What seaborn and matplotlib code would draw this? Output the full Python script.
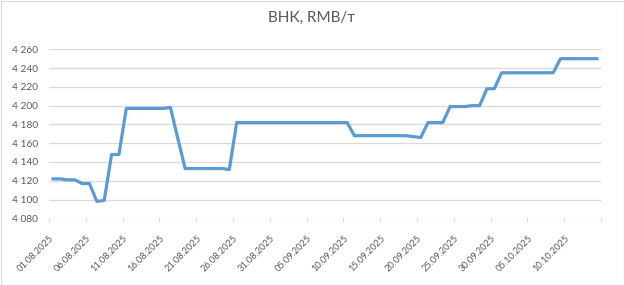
import matplotlib
matplotlib.use("Agg")
import matplotlib.pyplot as plt
import seaborn as sns
import pandas as pd
import numpy as np
from matplotlib.patches import Rectangle
from matplotlib.ticker import FuncFormatter, FixedLocator

dates = pd.date_range("2025-08-01", "2025-10-14", freq="D").strftime("%d.%m.%Y").tolist()
values = [
    4122, 4122, 4121, 4121, 4117, 4117, 4098, 4099, 4148, 4148,
    4197, 4197, 4197, 4197, 4197, 4197, 4198, 4165, 4133, 4133,
    4133, 4133, 4133, 4133, 4132, 4182, 4182, 4182, 4182, 4182,
    4182, 4182, 4182, 4182, 4182, 4182, 4182, 4182, 4182, 4182,
    4182, 4168, 4168, 4168, 4168, 4168, 4168, 4168, 4168, 4167,
    4166, 4182, 4182, 4182, 4199, 4199, 4199, 4200, 4200, 4218,
    4218, 4235, 4235, 4235, 4235, 4235, 4235, 4235, 4235, 4250,
    4250, 4250, 4250, 4250, 4250,
]
title = "ВНК, RMB/т"
yticks = list(range(4080, 4261, 20))

sns.set_theme(style="white")
plt.rcParams["font.family"] = ["Lato", "DejaVu Sans"]

df = pd.DataFrame({"date": dates, "value": values, "idx": np.arange(len(dates))})

fig = plt.figure(figsize=(6.24, 2.85), dpi=100)
ax = fig.add_axes([49 / 624, 1 - 218.3 / 285, 552 / 624, (218.3 - 49.3) / 285])

for y in yticks:
    ax.axhline(y, color="#D9D9D9", lw=0.9, zorder=0)

sns.lineplot(data=df, x="idx", y="value", ax=ax, color="#5B9BD5", lw=2.3, zorder=3)

ax.set_xlim(-0.5, len(dates) - 0.5)
ax.set_ylim(4080, 4260)
ax.set_yticks(yticks)
ax.yaxis.set_major_formatter(FuncFormatter(lambda v, p: f"{int(v):,}".replace(",", " ")))
tick_idx = [i for i in range(0, len(dates), 5) if i <= 70]
ax.set_xticks(tick_idx)
ax.set_xticklabels([dates[i] for i in tick_idx], rotation=45, ha="right",
                   rotation_mode="anchor", va="center")
ax.xaxis.set_minor_locator(FixedLocator([i - 0.5 for i in range(0, len(dates) + 1, 5)]))
ax.tick_params(axis="x", which="major", length=0, pad=13, labelsize=6.7, colors="#595959")
ax.tick_params(axis="x", which="minor", length=3, width=0.8, color="#D9D9D9", bottom=True)
ax.tick_params(axis="y", length=0, pad=8, labelsize=7.3, colors="#595959")
ax.set_xlabel("")
ax.set_ylabel("")
for s in ax.spines.values():
    s.set_visible(False)
ax.patch.set_alpha(0)

fig.text(0.5, 1 - 22 / 285, title, ha="center", va="baseline", fontsize=11, color="#595959")
fig.patches.append(Rectangle((0.5 / 624, 0.5 / 285), 623 / 624, 284 / 285, transform=fig.transFigure,
                             fill=False, edgecolor="#D9D9D9", lw=0.8))

fig.savefig("out.png", dpi=100)
